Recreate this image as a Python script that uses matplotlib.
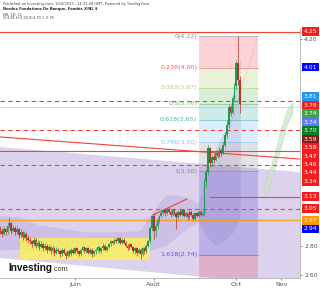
import matplotlib
matplotlib.use("Agg")
import matplotlib.pyplot as plt
from matplotlib.patches import Rectangle, Polygon

plt.rcParams["font.family"] = ["DejaVu Sans"]

# ---------------------------------------------------------------- price bars
# daily candles, bar index on x; each open is the previous close
first_open = 2.91
closes = [
    2.90, 2.88, 2.91, 2.89, 2.93, 2.95, 2.90, 2.92, 2.89, 2.91, 2.87, 2.89, 2.86, 2.88, 2.85, 2.84,
    2.83, 2.81, 2.84, 2.80, 2.82, 2.79, 2.81, 2.78, 2.80, 2.77, 2.79, 2.76, 2.78, 2.75, 2.77,
    2.76, 2.74, 2.77, 2.75, 2.73, 2.76, 2.74, 2.77, 2.75, 2.78, 2.76, 2.74, 2.77, 2.79, 2.76, 2.78,
    2.75, 2.77, 2.74, 2.76,
    2.77, 2.79, 2.76, 2.78, 2.80, 2.77, 2.79, 2.81, 2.83, 2.82, 2.84, 2.83, 2.85, 2.82, 2.84,
    2.82, 2.80, 2.78, 2.81, 2.79, 2.76, 2.78, 2.75, 2.77, 2.74, 2.78, 2.76, 2.80, 2.83,
    2.92, 3.00, 2.90,
    2.93, 2.97, 3.00, 3.02, 3.04, 3.02, 3.05, 3.03, 3.01, 3.04, 3.02, 2.99, 3.03, 3.01, 3.04, 3.00,
    3.02, 2.99, 3.03, 3.01, 2.98, 3.02, 3.00, 3.03, 3.01, 3.02,
    3.24, 3.30, 3.46, 3.36,
    3.40, 3.38, 3.43, 3.41, 3.45, 3.43, 3.48,
    3.55, 3.62, 3.74, 3.70, 3.80, 3.88, 4.04,
    3.92, 3.76,
]
highs = [
    2.93, 2.92, 2.93, 2.92, 2.96, 2.99, 2.96, 2.94, 2.93, 2.93, 2.92, 2.91, 2.90, 2.90, 2.89, 2.87,
    2.86, 2.84, 2.86, 2.85, 2.84, 2.83, 2.83, 2.82, 2.82, 2.81, 2.81, 2.80, 2.80, 2.79, 2.79,
    2.78, 2.77, 2.78, 2.78, 2.76, 2.77, 2.77, 2.78, 2.78, 2.79, 2.79, 2.77, 2.78, 2.80, 2.80, 2.79,
    2.79, 2.78, 2.78, 2.77,
    2.78, 2.80, 2.80, 2.79, 2.82, 2.81, 2.80, 2.82, 2.84, 2.84, 2.85, 2.85, 2.86, 2.86, 2.85,
    2.85, 2.83, 2.81, 2.82, 2.82, 2.80, 2.79, 2.79, 2.78, 2.78, 2.79, 2.79, 2.81, 2.84,
    2.93, 3.01, 3.02,
    2.95, 2.99, 3.01, 3.04, 3.05, 3.05, 3.06, 3.06, 3.04, 3.05, 3.05, 3.03, 3.04, 3.04, 3.05, 3.05,
    3.03, 3.03, 3.04, 3.04, 3.02, 3.03, 3.03, 3.04, 3.04, 3.03,
    3.25, 3.32, 3.48, 3.47,
    3.42, 3.42, 3.45, 3.44, 3.47, 3.46, 3.50,
    3.57, 3.65, 3.76, 3.75, 3.82, 3.90, 4.06,
    4.22, 3.95,
]
lows = [
    2.88, 2.86, 2.87, 2.87, 2.88, 2.92, 2.88, 2.89, 2.87, 2.88, 2.85, 2.86, 2.84, 2.85, 2.83, 2.82,
    2.81, 2.79, 2.80, 2.78, 2.79, 2.77, 2.78, 2.76, 2.77, 2.75, 2.76, 2.74, 2.75, 2.73, 2.74,
    2.75, 2.72, 2.73, 2.74, 2.71, 2.72, 2.73, 2.73, 2.74, 2.74, 2.75, 2.73, 2.73, 2.76, 2.75, 2.75,
    2.74, 2.74, 2.72, 2.73,
    2.74, 2.76, 2.75, 2.75, 2.77, 2.76, 2.76, 2.78, 2.80, 2.81, 2.81, 2.82, 2.82, 2.81, 2.81,
    2.81, 2.79, 2.77, 2.77, 2.78, 2.75, 2.74, 2.73, 2.74, 2.71, 2.73, 2.74, 2.75, 2.79,
    2.82, 2.90, 2.84,
    2.86, 2.91, 2.95, 2.99, 3.01, 3.00, 3.01, 3.02, 2.99, 3.00, 3.01, 2.91, 2.98, 3.00, 3.00, 2.99,
    2.99, 2.97, 2.98, 3.00, 2.97, 2.97, 2.99, 2.99, 3.00, 3.00,
    3.01, 3.20, 3.28, 3.33,
    3.34, 3.36, 3.37, 3.39, 3.40, 3.41, 3.42,
    3.47, 3.53, 3.60, 3.68, 3.69, 3.78, 3.86,
    3.89, 3.70,
]
opens = [first_open] + closes[:-1]

month_ticks = [40, 82, 126, 150]
month_labels = ["Juin", "Août", "Oct", "Nov"]
price_ticks = [4.20, 2.80, 2.60]

# ---------------------------------------------------------------- drawings
fib_x = (106, 137.6)
fib_high, fib_low = 4.22, 3.303
fib_levels = [0, 0.236, 0.382, 0.5, 0.618, 0.786, 1, 1.618, 2.618]
fib_colors = ["#787b86", "#f23645", "#a5c85a", "#4caf50", "#26a69a",
              "#64b5f6", "#787b86", "#4a3fd0", "#f23645"]

channel_x = (0, 160)
channel_top = (3.468, 3.298)
channel_bottom = (2.715, 2.525)

band_x = [0, 10, 20, 30, 45, 60, 75, 80, 88, 95, 102, 106, 110, 115, 120, 125, 128]
band_upper = [3.00, 2.99, 2.94, 2.92, 2.89, 2.89, 2.90, 3.00, 3.14, 3.14, 3.11, 3.08,
              3.28, 3.45, 3.58, 3.85, 4.06]
band_lower = [2.77, 2.78, 2.76, 2.77, 2.80, 2.82, 2.80, 2.77, 2.80, 2.87, 2.94, 2.96,
              2.87, 2.80, 2.84, 2.90, 3.01]

ghost_x = [141, 144, 147, 150, 153, 156]
ghost_low = [3.12, 3.22, 3.35, 3.48, 3.62, 3.70]
ghost_high = [3.20, 3.32, 3.45, 3.60, 3.72, 3.77]

yellow_x = (10.7, 80)
yellow_y = (2.702, 2.851)

red_solid = [4.25, 3.44]
red_dashed = [3.78, 3.58, 3.345, 3.05]
red_slope_x, red_slope_y = (0, 160), (3.536, 3.386)
red_ray_x, red_ray_y = 112, 3.13
red_trend_x, red_trend_y = (81.6, 99.7), (3.007, 3.115)
orange_level = 2.97
blue_level = 3.74

label_values = [4.25, 4.01, 3.81, 3.78, 3.74, 3.74, 3.70, 3.59, 3.58, 3.47, 3.46,
                3.44, 3.34, 3.13, 3.05, 2.97, 2.94]
label_colors = ["#f21d1d", "#0000ff", "#2196f3", "#f21d1d", "#43a047", "#5c7cfa",
                "#087f23", "#8b1a1a", "#f21d1d", "#f21d1d", "#f21d1d", "#f21d1d",
                "#f21d1d", "#f21d1d", "#f21d1d", "#ff9800", "#0000ff"]

RED = "#f44336"
UP, DOWN = "#1e9a50", "#b8322a"

fig = plt.figure(figsize=(3.2, 2.9), dpi=100)
ax = fig.add_axes([0, 1 - 278 / 290, 300 / 320, 250 / 290])
ax.set_xlim(0, 160)
ax.set_ylim(2.5797, 4.2746)

# channel + envelope
ax.add_patch(Polygon([(channel_x[0], channel_top[0]), (channel_x[1], channel_top[1]),
                      (channel_x[1], channel_bottom[1]), (channel_x[0], channel_bottom[0])],
                     closed=True, fc="#b39ddb", alpha=0.45, ec="none", zorder=1))
ax.fill_between(band_x, band_lower, band_upper, color="#8e7cc3", alpha=0.2,
                lw=0.4, ec="#9e9ac8", zorder=2)

# fibonacci retracement
fib_prices = [fib_high - lvl * (fib_high - fib_low) for lvl in fib_levels]
for i in range(1, len(fib_levels)):
    ax.add_patch(Rectangle((fib_x[0], fib_prices[i]), fib_x[1] - fib_x[0],
                           fib_prices[i - 1] - fib_prices[i],
                           fc=fib_colors[i], alpha=0.22, ec="none", zorder=2))
for lvl, p, c in zip(fib_levels, fib_prices, fib_colors):
    ax.plot(fib_x, [p, p], color=c, lw=0.5, alpha=0.6, zorder=3)
    if p > ax.get_ylim()[0]:
        ax.text(fib_x[0] - 0.8, p, f"{lvl:g}({p:.2f})", color=c, fontsize=4.6,
                ha="right", va="center", alpha=0.85, zorder=6)
ax.plot([108, fib_x[1]], [3.00, fib_high], color="#9e9e9e", lw=0.4, ls=":", zorder=3)

# yellow range box
ax.add_patch(Rectangle((yellow_x[0], yellow_y[0]), yellow_x[1] - yellow_x[0],
                       yellow_y[1] - yellow_y[0], fc="#fbef5a", alpha=0.85,
                       ec="none", zorder=2))

# ghost projection
ax.fill_between(ghost_x, ghost_low, ghost_high, color="#c8e6c9", alpha=0.7,
                ec="#a5d6a7", lw=0.4, zorder=3)

# horizontal / trend lines
for y in red_solid:
    ax.axhline(y, color=RED, lw=0.8, zorder=4)
for y in red_dashed:
    ax.axhline(y, color=RED, lw=0.8, ls=(0, (4, 3)), zorder=4)
ax.plot(red_slope_x, red_slope_y, color=RED, lw=0.8, zorder=4)
ax.plot([red_ray_x, 160], [red_ray_y, red_ray_y], color=RED, lw=0.8, zorder=4)
ax.plot(red_trend_x, red_trend_y, color=RED, lw=0.8, zorder=4)
ax.axhline(orange_level, color="#ff9800", lw=1.0, alpha=0.8, zorder=4)
ax.axhline(blue_level, color="#90caf9", lw=0.4, zorder=4)

# candles
x = list(range(len(closes)))
colors = [UP if c >= o else DOWN for o, c in zip(opens, closes)]
ax.vlines(x, lows, highs, colors=colors, lw=0.5, zorder=5)
ax.bar(x, [abs(c - o) or 0.004 for o, c in zip(opens, closes)], width=0.85,
       bottom=[min(o, c) for o, c in zip(opens, closes)], color=colors, lw=0, zorder=5)

# axes styling
for side in ("top", "left"):
    ax.spines[side].set_visible(False)
ax.spines["right"].set_color("#b0b0b0")
ax.spines["bottom"].set_color("#b0b0b0")
ax.spines["right"].set_linewidth(0.6)
ax.spines["bottom"].set_linewidth(0.6)
ax.set_xticks(month_ticks)
ax.set_xticklabels(month_labels)
ax.tick_params(axis="x", labelsize=4.6, colors="#555555", length=1.5, width=0.5, pad=1.5)
ax.yaxis.tick_right()
ax.set_yticks(price_ticks)
ax.set_yticklabels([f"{v:.2f}" for v in price_ticks])
ax.tick_params(axis="y", labelsize=4.4, colors="#555555", length=1.5, width=0.5, pad=1.5)

# stacked price labels on the right scale
gap = 0.0576
prev = None
trans = ax.get_yaxis_transform()
for v, c in sorted(zip(label_values, label_colors), key=lambda t: -t[0]):
    pos = v if prev is None else min(v, prev - gap)
    prev = pos
    ax.text(1.012, pos, f"{v:.2f}", transform=trans, color="white", fontsize=4.4,
            ha="left", va="center", clip_on=False, zorder=10,
            bbox=dict(boxstyle="square,pad=0.3", fc=c, ec="none"))

# header
fig.text(3 / 320, 1 - 4 / 290, "Published on Investing.com, 10/4/2023 - 14:31:08 GMT, "
         "Powered by TradingView.", fontsize=2.6, color="#444444", va="center")
fig.text(3 / 320, 1 - 9 / 290, "Nordex Fondations De Banque, Fondée X/NL $",
         fontsize=2.6, color="#222222", weight="bold", va="center")
fig.text(3 / 320, 1 - 14.5 / 290, "NR, 1D, 1L", fontsize=2.6, color="#444444", va="center")
fig.text(3 / 320, 1 - 18 / 290, "O:3.81 H:3.92 B:3.70 C:3.78", fontsize=2.6,
         color="#444444", va="center")

# watermark logo
logo = fig.text(8 / 320, 1 - 271 / 290, "Investing", fontsize=7.2, weight="bold",
                family=["Liberation Sans", "DejaVu Sans"], color="#111111", va="baseline")
fig.canvas.draw()
ax.annotate(".com", xy=(1, 0), xycoords=logo, xytext=(0.3, 0), textcoords="offset points",
            fontsize=5.2, family=["Liberation Sans", "DejaVu Sans"], color="#333333",
            va="bottom", annotation_clip=False)

fig.savefig("out.png", dpi=100)
